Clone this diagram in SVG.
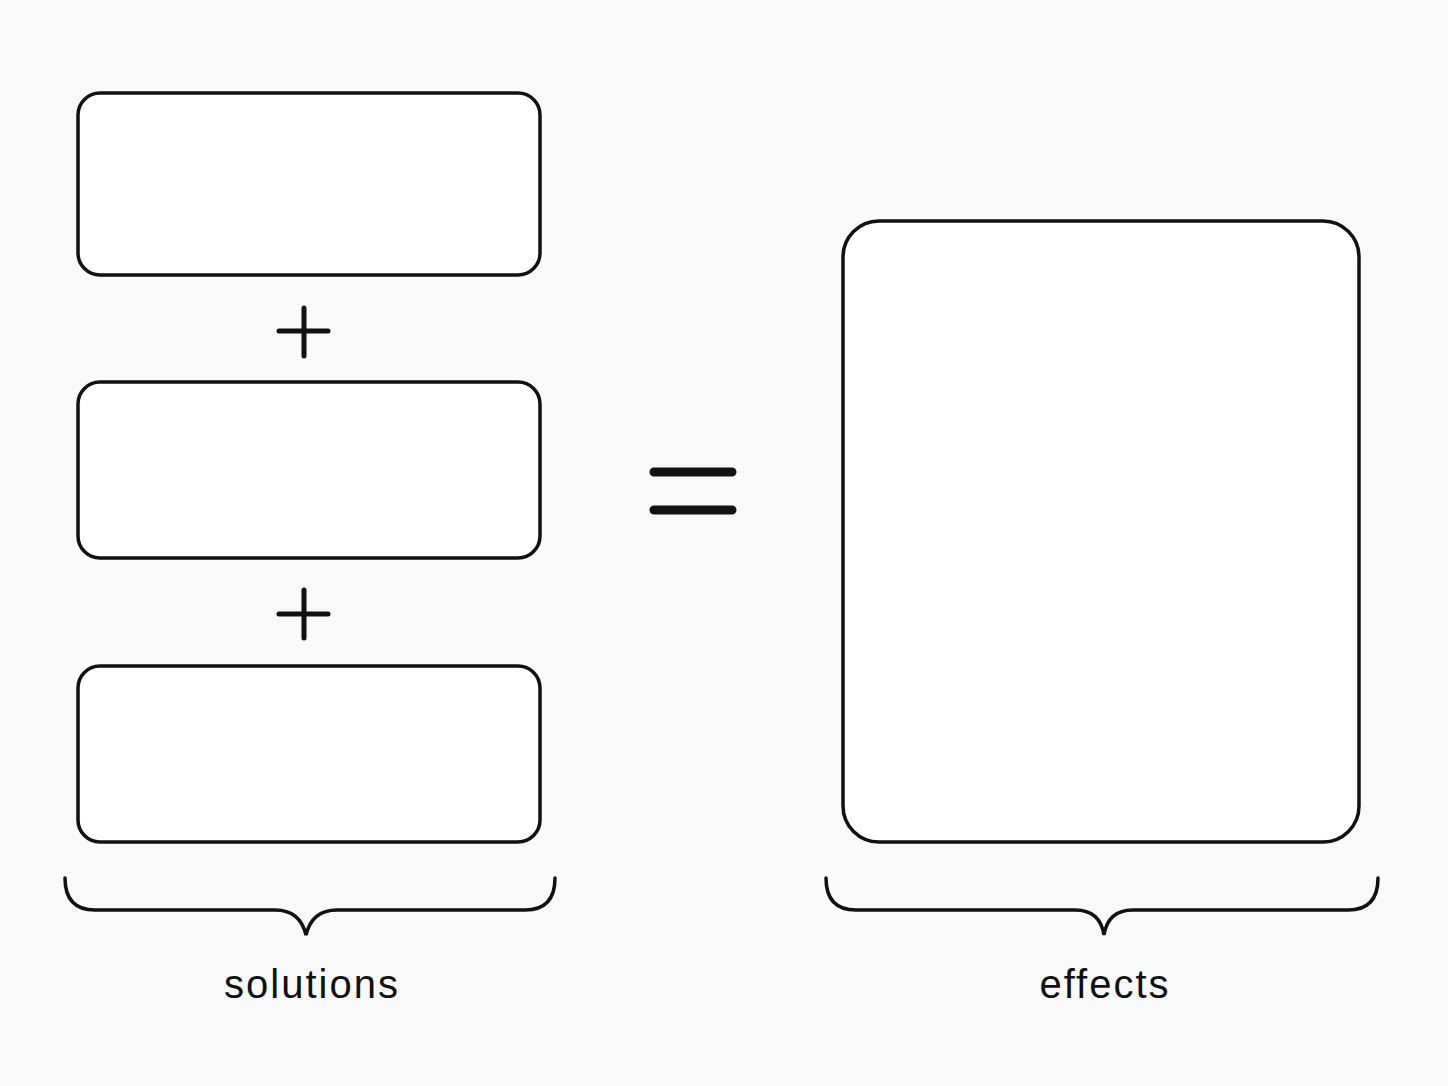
<svg xmlns="http://www.w3.org/2000/svg" width="1448" height="1086" viewBox="0 0 1448 1086">
<style>
.b{fill:#fff;stroke:#111;stroke-width:3.5;}
.l{fill:none;stroke:#111;stroke-width:3.5;stroke-linecap:round;}
.t{font-family:"Liberation Sans",sans-serif;font-size:40px;fill:#111;text-anchor:middle;letter-spacing:2px;}
</style>
<rect width="1448" height="1086" fill="#f9f9f9"/>
<g id="box1"><rect class="b" x="78" y="93" width="462" height="182" rx="22"/></g>
<g id="box2"><rect class="b" x="78" y="382" width="462" height="176" rx="22"/></g>
<g id="box3"><rect class="b" x="78" y="666" width="462" height="176" rx="22"/></g>
<g id="box4"><rect class="b" x="843" y="221" width="516" height="621" rx="36"/></g>
<g id="ops">
<path class="l" d="M304 308V356M279 331H328M304 590V638M279 614H328" style="stroke-width:5"/>
<path class="l" d="M654 472H732M654 510H732" style="stroke-width:9"/>
</g>
<g id="connectors">
<path class="l" d="M65 878Q65 910 95 910H275Q300 910 306 935Q312 910 337 910H525Q555 910 555 878"/>
<path class="l" d="M826 878Q826 910 856 910H1075Q1100 910 1104 935Q1108 910 1133 910H1348Q1378 910 1378 878"/>
</g>
<text class="t" x="312" y="998">solutions</text>
<text class="t" x="1105" y="998">effects</text>
</svg>
